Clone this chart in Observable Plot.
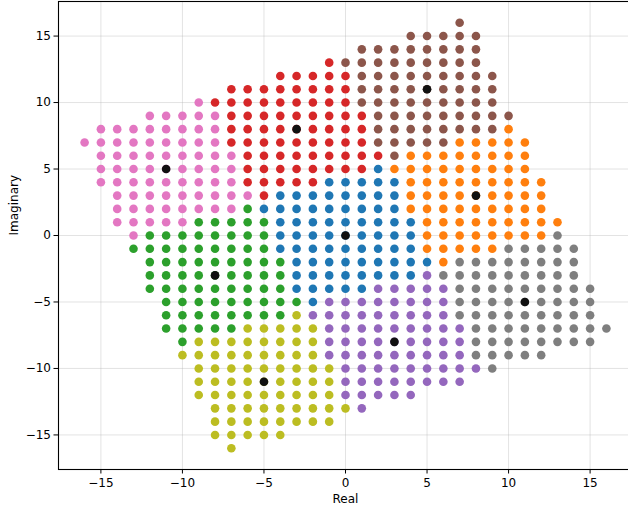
<!DOCTYPE html>
<html>
<head>
<meta charset="utf-8">
<script src="https://cdn.jsdelivr.net/npm/d3@7"></script>
<script src="https://cdn.jsdelivr.net/npm/@observablehq/plot@0.6"></script>
<style>
  html, body { margin: 0; padding: 0; background: #fff; }
  #chart { width: 628px; height: 508px; overflow: hidden; }
  svg { font-family: "DejaVu Sans", sans-serif; }
</style>
</head>
<body>
<div id="chart"></div>
<script>
// Each row: [imaginary (y), first real (x), last real (x)] — lattice points read per row
const blueRows   = [[5,2,2],[4,-1,3],[3,-4,3],[2,-5,3],[1,-4,4],[0,-4,4],[-1,-4,4],[-2,-3,5],[-3,-3,4],[-4,-3,1],[-5,-2,-2]];
const orangeRows = [[8,10,10],[7,7,11],[6,4,11],[5,3,11],[4,4,12],[3,4,12],[2,4,12],[1,5,13],[0,5,12],[-1,5,9],[-2,6,6]];
const greenRows  = [[2,-6,-6],[1,-9,-5],[0,-12,-5],[-1,-13,-5],[-2,-12,-4],[-3,-12,-4],[-4,-12,-4],[-5,-11,-3],[-6,-11,-4],[-7,-11,-7],[-8,-10,-10]];
const redRows    = [[13,-1,-1],[12,-4,0],[11,-7,0],[10,-8,0],[9,-7,1],[8,-7,1],[7,-7,1],[6,-6,2],[5,-6,1],[4,-6,-2],[3,-5,-5]];
const purpleRows = [[-3,5,5],[-4,2,6],[-5,-1,6],[-6,-2,6],[-7,-1,7],[-8,-1,7],[-9,-1,7],[-10,0,8],[-11,0,7],[-12,0,4],[-13,1,1]];
const brownRows  = [[16,7,7],[15,4,8],[14,1,8],[13,0,8],[12,1,9],[11,1,9],[10,1,9],[9,2,10],[8,2,9],[7,2,6],[6,3,3]];
const pinkRows   = [[10,-9,-9],[9,-12,-8],[8,-15,-8],[7,-16,-8],[6,-15,-7],[5,-15,-7],[4,-15,-7],[3,-14,-6],[2,-14,-7],[1,-14,-10],[0,-13,-13]];
const grayRows   = [[0,13,13],[-1,10,14],[-2,7,14],[-3,6,14],[-4,7,15],[-5,7,15],[-6,7,15],[-7,8,16],[-8,8,15],[-9,8,12],[-10,9,9]];
const oliveRows  = [[-6,-3,-3],[-7,-6,-2],[-8,-9,-2],[-9,-10,-2],[-10,-9,-1],[-11,-9,-1],[-12,-9,-1],[-13,-8,0],[-14,-8,-1],[-15,-8,-4],[-16,-7,-7]];

const centerRe = [0, 8, -8, -3, 3, 5, -11, 11, -5];
const centerIm = [0, 3, -3, 8, -8, 11, 5, -5, -11];

const cellNames  = ["cell0","cell1","cell2","cell3","cell4","cell5","cell6","cell7","cell8"];
const cellColors = ["#1f77b4","#ff7f0e","#2ca02c","#d62728","#9467bd","#8c564b","#e377c2","#7f7f7f","#bcbd22"];
const cellRows = [blueRows, orangeRows, greenRows, redRows, purpleRows, brownRows, pinkRows, grayRows, oliveRows];

const xTicks = [-15, -10, -5, 0, 5, 10, 15];
const yTicks = [-15, -10, -5, 0, 5, 10, 15];

// expand rows into point records
const points = [];
cellRows.forEach((rows, i) => {
  for (const [im, a, b] of rows) {
    for (let re = a; re <= b; re++) points.push({re, im, cell: cellNames[i]});
  }
});
const centers = centerRe.map((re, i) => ({re, im: centerIm[i]}));

const fmt = d => (d < 0 ? "\u2212" + (-d) : String(d));

const chart = Plot.plot({
  width: 628,
  height: 508,
  marginLeft: 58,
  marginRight: -4,
  marginTop: 1,
  marginBottom: 39,
  style: {fontFamily: "DejaVu Sans, sans-serif", fontSize: "12px", color: "#000", background: "#fff"},
  x: {domain: [-17.6, 17.6]},
  y: {domain: [-17.6, 17.6]},
  color: {type: "ordinal", domain: cellNames, range: cellColors},
  marks: [
    Plot.gridX(xTicks, {stroke: "#b0b0b0", strokeOpacity: 0.35, strokeWidth: 1}),
    Plot.gridY(yTicks, {stroke: "#b0b0b0", strokeOpacity: 0.35, strokeWidth: 1}),
    Plot.dot(points, {x: "re", y: "im", fill: "cell", r: 4.3}),
    Plot.dot(centers, {x: "re", y: "im", fill: "#111", r: 4.3}),
    Plot.frame({stroke: "#000", strokeWidth: 1.1}),
    Plot.axisX(xTicks, {tickFormat: fmt, tickSize: 4.5, tickPadding: 4, label: null, fontSize: 12, stroke: "#000"}),
    Plot.axisY(yTicks, {tickFormat: fmt, tickSize: 4.5, tickPadding: 3, label: null, fontSize: 12, stroke: "#000"}),
    Plot.text(["Real"], {frameAnchor: "bottom", dy: 33, text: d => d, fontSize: 12, fill: "#000"}),
    Plot.text(["Imaginary"], {frameAnchor: "left", dx: -44, rotate: -90, text: d => d, fontSize: 12, fill: "#000"})
  ]
});
document.getElementById("chart").appendChild(chart);
</script>
</body>
</html>
